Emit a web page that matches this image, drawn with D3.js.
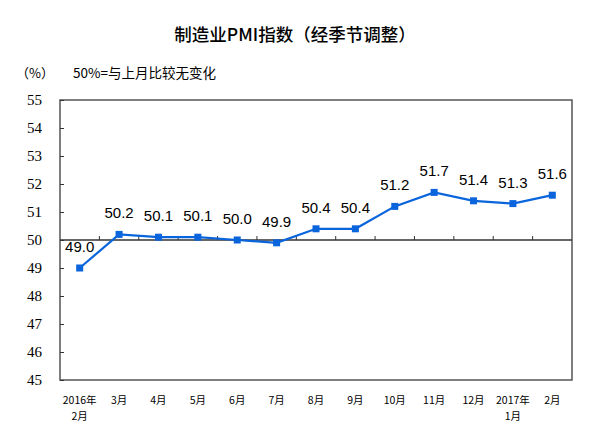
<!DOCTYPE html>
<html>
<head>
<meta charset="utf-8">
<script src="https://cdn.jsdelivr.net/npm/d3@7"></script>
<style>
  body { margin: 0; background: #fff; }
  svg { display: block; }
</style>
</head>
<body>
<svg id="chart" width="600" height="437"></svg>
<script>
const months = ['2016年\n2月', '3月', '4月', '5月', '6月', '7月', '8月', '9月', '10月', '11月', '12月', '2017年\n1月', '2月'];
const pmi = [49.0, 50.2, 50.1, 50.1, 50.0, 49.9, 50.4, 50.4, 51.2, 51.7, 51.4, 51.3, 51.6];
const yTicks = [45, 46, 47, 48, 49, 50, 51, 52, 53, 54, 55];

const margin = { left: 60, right: 28, top: 100, bottom: 57 };
const W = 600, H = 437;
const svg = d3.select('#chart');

const x = d3.scaleBand().domain(months).range([margin.left, W - margin.right]);
const y = d3.scaleLinear().domain([45, 55]).range([H - margin.bottom, margin.top]);

// title + notes
svg.append('text')
    .attr('x', 295).attr('y', 41)
    .attr('text-anchor', 'middle')
    .attr('font-family', '"Noto Sans CJK SC", sans-serif')
    .attr('font-size', 17.5).attr('font-weight', 500)
    .text('制造业PMI指数（经季节调整）');
svg.append('text')
    .attr('x', 16).attr('y', 78)
    .attr('font-family', '"Noto Sans CJK SC", sans-serif')
    .attr('font-size', 13)
    .text('（%）');
svg.append('text')
    .attr('x', 73).attr('y', 78)
    .attr('font-family', '"Noto Sans CJK SC", sans-serif')
    .attr('font-size', 13.5)
    .text('50%=与上月比较无变化');

// box
svg.append('rect')
    .attr('x', margin.left).attr('y', margin.top)
    .attr('width', W - margin.left - margin.right)
    .attr('height', H - margin.top - margin.bottom)
    .attr('fill', 'none').attr('stroke', '#555').attr('stroke-width', 1.5);

// y axis
const yAxis = svg.append('g')
    .attr('transform', `translate(${margin.left},0)`)
    .call(d3.axisLeft(y).tickValues(yTicks).tickSize(-4).tickPadding(18));
yAxis.select('.domain').remove();
yAxis.selectAll('line').attr('stroke', '#333');
yAxis.selectAll('text')
    .attr('font-family', '"Liberation Serif", serif')
    .attr('font-size', 15).attr('fill', '#000');

// 50 line with category ticks
svg.append('line')
    .attr('x1', margin.left).attr('x2', W - margin.right)
    .attr('y1', y(50)).attr('y2', y(50))
    .attr('stroke', '#333').attr('stroke-width', 1.5);
svg.append('g').selectAll('line')
    .data(months.slice(1))
    .join('line')
    .attr('x1', d => x(d)).attr('x2', d => x(d))
    .attr('y1', y(50)).attr('y2', y(50) - 4)
    .attr('stroke', '#333');

// x labels
const xl = svg.append('g').selectAll('text')
    .data(months)
    .join('text')
    .attr('x', d => x(d) + x.bandwidth() / 2)
    .attr('y', 404)
    .attr('text-anchor', 'middle')
    .attr('font-family', '"Noto Sans CJK SC", sans-serif')
    .attr('font-size', 10.5);
xl.each(function (d) {
    d.split('\n').forEach((s, i) => {
        d3.select(this).append('tspan')
            .attr('x', x(d) + x.bandwidth() / 2)
            .attr('dy', i ? 16 : 0)
            .text(s);
    });
});

// line + markers
const cx = (d, i) => x(months[i]) + x.bandwidth() / 2;
svg.append('path')
    .datum(pmi)
    .attr('d', d3.line().x(cx).y(d => y(d)))
    .attr('fill', 'none').attr('stroke', '#0a64dc').attr('stroke-width', 2.2);
svg.append('g').selectAll('rect')
    .data(pmi)
    .join('rect')
    .attr('x', (d, i) => cx(d, i) - 3.5).attr('y', d => y(d) - 3.5)
    .attr('width', 7).attr('height', 7)
    .attr('fill', '#0a64dc');

// value labels
svg.append('g').selectAll('text')
    .data(pmi)
    .join('text')
    .attr('x', cx)
    .attr('y', d => y(d) - 16)
    .attr('text-anchor', 'middle')
    .attr('font-family', '"Liberation Sans", Arial, sans-serif')
    .attr('font-size', 15)
    .text(d => d.toFixed(1));
</script>
</body>
</html>
